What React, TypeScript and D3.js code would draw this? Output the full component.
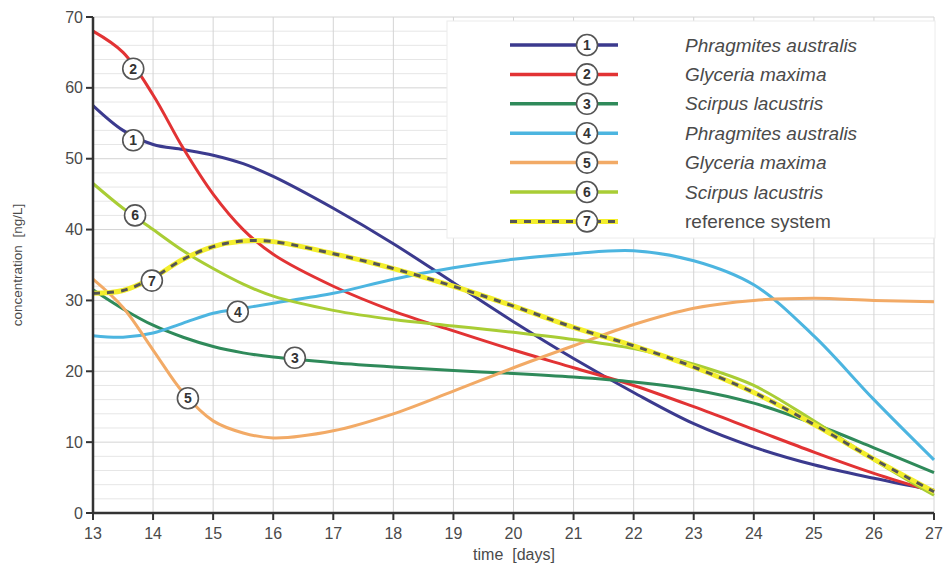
import React from "react";
import * as d3 from "d3";

// days sampled along the curves
const days = [13, 13.5, 14, 14.5, 15, 15.5, 16, 17, 18, 19, 20, 21, 22, 23, 24, 25, 26, 27];

const s1 = [57.5, 54, 52, 51.3, 50.5, 49.3, 47.5, 43, 38, 32.5, 27, 21.8, 17, 12.6, 9.3, 6.8, 4.9, 3.2];
const s2 = [68, 65, 59, 51.5, 45, 40, 36.5, 32, 28.5, 25.7, 23, 20.5, 18, 15, 11.8, 8.6, 5.6, 3];
const s3 = [31.5, 28.8, 26.5, 24.8, 23.5, 22.6, 22, 21.2, 20.6, 20.1, 19.7, 19.2, 18.5, 17.4, 15.5, 12.6, 9.2, 5.7];
const s4 = [25, 24.8, 25.4, 26.8, 28.2, 28.9, 29.6, 31, 33, 34.6, 35.8, 36.6, 37, 35.6, 32.2, 25, 16, 7.5];
const s5 = [33, 29, 23, 17, 13, 11.3, 10.6, 11.6, 14, 17.2, 20.5, 23.6, 26.6, 28.9, 30, 30.3, 30, 29.8];
const s6 = [46.5, 43, 40, 37, 34.5, 32.3, 30.6, 28.6, 27.3, 26.4, 25.5, 24.5, 23.2, 21, 18, 13, 7.5, 2.5];
const s7 = [31, 31.4, 33.2, 35.8, 37.6, 38.4, 38.3, 36.6, 34.5, 32, 29.2, 26.2, 23.6, 20.6, 17, 12.5, 7.6, 3];

const seriesNames = [
  "Phragmites australis",
  "Glyceria maxima",
  "Scirpus lacustris",
  "Phragmites australis",
  "Glyceria maxima",
  "Scirpus lacustris",
  "reference system",
];
const seriesColors = ["#3b3a8e", "#e23334", "#2f8a5a", "#4cb5e0", "#f2aa66", "#a9cd35", "#555555"];
const seriesValues = [s1, s2, s3, s4, s5, s6, s7];
const italicNames = [true, true, true, true, true, true, false];

// number labels on the curves (day, value)
const labelDays = [13.67, 13.67, 16.36, 15.41, 14.58, 13.7, 13.98];
const labelValues = [52.6, 62.7, 21.9, 28.4, 16.2, 42.0, 32.8];

const xTicks = d3.range(13, 28);
const yTicks = [0, 10, 20, 30, 40, 50, 60, 70];
const yMinor = d3.range(0, 71, 2);

const W = 947;
const H = 572;

export default function App() {
  const x = d3.scaleLinear().domain([13, 27]).range([93, 934]);
  const y = d3.scaleLinear().domain([0, 70]).range([513, 17]);

  const line = d3
    .line<number>()
    .x((_, i) => x(days[i]))
    .y((d) => y(d))
    .curve(d3.curveCatmullRom.alpha(0.5));

  const font = "'Liberation Sans', Arial, sans-serif";
  const textColor = "#4a4a4a";

  const legendX1 = 510;
  const legendX2 = 618;
  const legendCircle = 587;
  const legendY0 = 45;
  const legendStep = 29.4;

  return (
    <svg width={W} height={H} style={{ position: "absolute", left: 0, top: 0, background: "#fff" }} fontFamily={font}>
      {/* grid */}
      <g>
        {yMinor.map((v) => (
          <line key={"h" + v} x1={x(13)} x2={x(27)} y1={y(v)} y2={y(v)} stroke={v % 10 === 0 ? "#d4d4d4" : "#e6e6e6"} strokeWidth={1} />
        ))}
        {xTicks.map((d) => (
          <line key={"v" + d} x1={x(d)} x2={x(d)} y1={y(0)} y2={y(70)} stroke="#d4d4d4" strokeWidth={1} />
        ))}
      </g>

      {/* legend box */}
      <rect x={447} y={21} width={488} height={217} fill="#fff" stroke="#ececec" strokeWidth={1} />

      {/* series */}
      <g fill="none">
        {seriesValues.slice(0, 6).map((vals, i) => (
          <path key={i} d={line(vals) || ""} stroke={seriesColors[i]} strokeWidth={3} />
        ))}
        <path d={line(s7) || ""} stroke="#f3ee2c" strokeWidth={5} />
        <path d={line(s7) || ""} stroke="#555555" strokeWidth={3} strokeDasharray="7,7" />
      </g>

      {/* curve labels */}
      {labelDays.map((d, i) => (
        <g key={"lab" + i} transform={`translate(${x(d)},${y(labelValues[i])})`}>
          <circle r={10.5} fill="#fff" stroke="#555" strokeWidth={1.6} />
          <text textAnchor="middle" dy="0.36em" fontSize={14} fontWeight="bold" fill="#333">
            {i + 1}
          </text>
        </g>
      ))}

      {/* legend entries */}
      {seriesNames.map((name, i) => {
        const ly = legendY0 + i * legendStep;
        const isRef = i === 6;
        return (
          <g key={"leg" + i}>
            {isRef ? (
              <>
                <line x1={legendX1} x2={legendX2} y1={ly} y2={ly} stroke="#f3ee2c" strokeWidth={5} />
                <line x1={legendX1} x2={legendX2} y1={ly} y2={ly} stroke="#555" strokeWidth={3} strokeDasharray="7,7" />
              </>
            ) : (
              <line x1={legendX1} x2={legendX2} y1={ly} y2={ly} stroke={seriesColors[i]} strokeWidth={3.5} />
            )}
            <circle cx={legendCircle} cy={ly} r={10.5} fill="#fff" stroke="#555" strokeWidth={1.6} />
            <text x={legendCircle} y={ly} textAnchor="middle" dy="0.36em" fontSize={14} fontWeight="bold" fill="#333">
              {i + 1}
            </text>
            <text x={685} y={ly} dy="0.35em" fontSize={19} fontStyle={italicNames[i] ? "italic" : "normal"} fill={textColor}>
              {name}
            </text>
          </g>
        );
      })}

      {/* axes */}
      <line x1={x(13)} x2={x(13)} y1={y(70)} y2={y(0) + 1} stroke="#333" strokeWidth={2.5} />
      <line x1={x(13) - 1} x2={x(27)} y1={y(0)} y2={y(0)} stroke="#333" strokeWidth={2.5} />
      {yTicks.map((v) => (
        <g key={"yt" + v}>
          <line x1={x(13) - 7} x2={x(13)} y1={y(v)} y2={y(v)} stroke="#333" strokeWidth={2} />
          <text x={x(13) - 10} y={y(v)} dy="0.35em" textAnchor="end" fontSize={16} fill={textColor}>
            {v}
          </text>
        </g>
      ))}
      {xTicks.map((d) => (
        <g key={"xt" + d}>
          <line x1={x(d)} x2={x(d)} y1={y(0)} y2={y(0) + 7} stroke="#333" strokeWidth={2} />
          <text x={x(d)} y={y(0) + 26} textAnchor="middle" fontSize={16} fill={textColor}>
            {d}
          </text>
        </g>
      ))}

      {/* axis titles */}
      <text x={514} y={560} textAnchor="middle" fontSize={16} fill={textColor} style={{ whiteSpace: "pre" }}>
        {"time  [days]"}
      </text>
      <text
        transform={`translate(22,${y(35)}) rotate(-90)`}
        textAnchor="middle"
        fontSize={13.5}
        fill={textColor}
        style={{ whiteSpace: "pre" }}
      >
        {"concentration  [ng/L]"}
      </text>
    </svg>
  );
}
